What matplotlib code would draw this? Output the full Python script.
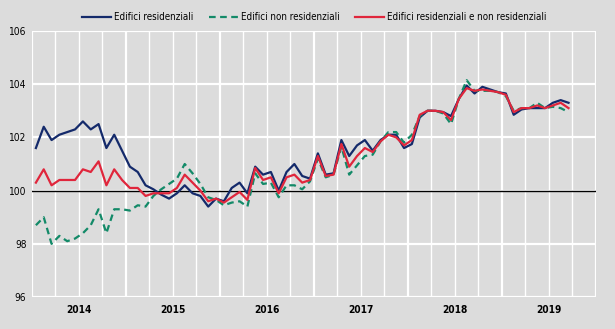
"""Indici edifici residenziali / non residenziali, 2014-2019."""

import matplotlib
matplotlib.use("Agg")
import matplotlib.pyplot as plt
from matplotlib import font_manager
import numpy as np

years = ["2014", "2015", "2016", "2017", "2018", "2019"]
y_ticks = [96, 98, 100, 102, 104, 106]

residenziali = [
    101.6, 102.4, 101.9, 102.1, 102.2, 102.3, 102.6, 102.3, 102.5, 101.6, 102.1, 101.5,
    100.9, 100.7, 100.2, 100.05, 99.85, 99.7, 99.9, 100.2, 99.9, 99.8, 99.4, 99.7,
    99.6, 100.1, 100.3, 99.9, 100.9, 100.6, 100.7, 100.0, 100.7, 101.0, 100.55, 100.45,
    101.4, 100.6, 100.65, 101.9, 101.3, 101.7, 101.9, 101.5, 101.9, 102.1, 102.1, 101.6,
    101.75, 102.75, 103.0, 103.0, 102.95, 102.8, 103.45, 103.95, 103.65, 103.9, 103.8, 103.7,
    103.65, 102.85, 103.05, 103.1, 103.1, 103.1, 103.3, 103.4, 103.3,
]
non_residenziali = [
    98.7, 99.0, 98.0, 98.3, 98.1, 98.2, 98.4, 98.7, 99.3, 98.4, 99.3, 99.3,
    99.25, 99.45, 99.4, 99.8, 100.05, 100.25, 100.45, 101.0, 100.65, 100.25, 99.75, 99.65,
    99.45, 99.55, 99.6, 99.4, 100.65, 100.25, 100.3, 99.75, 100.2, 100.2, 100.05, 100.35,
    101.2, 100.5, 100.6, 101.65, 100.6, 100.95, 101.3, 101.35, 101.85, 102.2, 102.2, 101.8,
    102.1, 102.8, 103.0, 103.0, 102.9, 102.5, 103.45, 104.15, 103.75, 103.75, 103.75, 103.7,
    103.55, 103.0, 103.1, 103.1, 103.3, 103.1, 103.15, 103.1, 102.95,
]
totale = [
    100.3, 100.8, 100.2, 100.4, 100.4, 100.4, 100.8, 100.7, 101.1, 100.2, 100.8, 100.4,
    100.1, 100.1, 99.8, 99.9, 99.9, 99.9, 100.1, 100.6, 100.3, 100.0, 99.6, 99.7,
    99.55, 99.75, 99.95, 99.65, 100.85, 100.4, 100.5, 99.9, 100.5, 100.6, 100.3, 100.4,
    101.3, 100.55, 100.6, 101.75, 100.9, 101.3, 101.6, 101.45, 101.85, 102.1, 102.0, 101.7,
    101.9, 102.85, 103.0, 103.0, 102.95, 102.65, 103.45, 103.85, 103.75, 103.8, 103.75, 103.7,
    103.6, 102.95, 103.1, 103.1, 103.2, 103.1, 103.2, 103.3, 103.1,
]

# the original uses a narrow sans; take one if the system has it
fonts = font_manager.fontManager.ttflist
names = {f.name for f in fonts}
if "Liberation Sans Narrow" in names:
    family, stretch, fs = "Liberation Sans Narrow", "normal", 7.5
elif any(f.name == "DejaVu Sans" and f.stretch == "condensed" for f in fonts):
    family, stretch, fs = "DejaVu Sans", "condensed", 7.0
else:
    family, stretch, fs = "Liberation Sans", "normal", 6.6
plt.rcParams["font.family"] = [family, "DejaVu Sans"]
plt.rcParams["font.stretch"] = stretch

bg = "#dcdcdc"
fig = plt.figure(figsize=(6.15, 3.29), dpi=100, facecolor=bg)
ax = fig.add_axes([0.052, 0.097, 0.917, 0.809], facecolor=bg)

months = np.arange(len(residenziali))
n_months = 12 * len(years)

# quarterly grid, slightly heavier at year boundaries
for q in range(0, n_months + 1, 3):
    lw = 1.6 if q % 12 == 0 else 1.0
    ax.axvline(q - 0.5, color="white", linewidth=lw, zorder=1)
for yv in y_ticks:
    ax.axhline(yv, color="white", linewidth=1.6, zorder=1)
ax.axhline(100, color="black", linewidth=1.0, zorder=2)

ax.plot(months, residenziali, color="#142a6b", linewidth=1.6, zorder=3,
        label="Edifici residenziali")
ax.plot(months, non_residenziali, color="#138a68", linewidth=1.6, linestyle=(0, (3, 2)),
        zorder=3, label="Edifici non residenziali")
ax.plot(months, totale, color="#e0263c", linewidth=1.6, zorder=4,
        label="Edifici residenziali e non residenziali")

ax.set_xlim(-0.5, n_months - 0.5)
ax.set_ylim(96, 106)
ax.set_yticks(y_ticks)
ax.set_yticklabels([str(v) for v in y_ticks], fontsize=fs + 0.3)
ax.set_xticks([12 * i + 5.5 for i in range(len(years))])
ax.set_xticklabels(years, fontsize=fs + 0.3, fontweight="bold")
ax.tick_params(length=0, pad=6)
ax.tick_params(axis="y", pad=4)
for s in ax.spines.values():
    s.set_visible(False)

ax.legend(loc="lower center", bbox_to_anchor=(0.5, 1.0), ncol=3, frameon=False,
          fontsize=fs, handlelength=3.0, handletextpad=0.3, columnspacing=1.6,
          borderaxespad=0.5)

fig.savefig("out.png", dpi=100, facecolor=bg)
plt.close(fig)
